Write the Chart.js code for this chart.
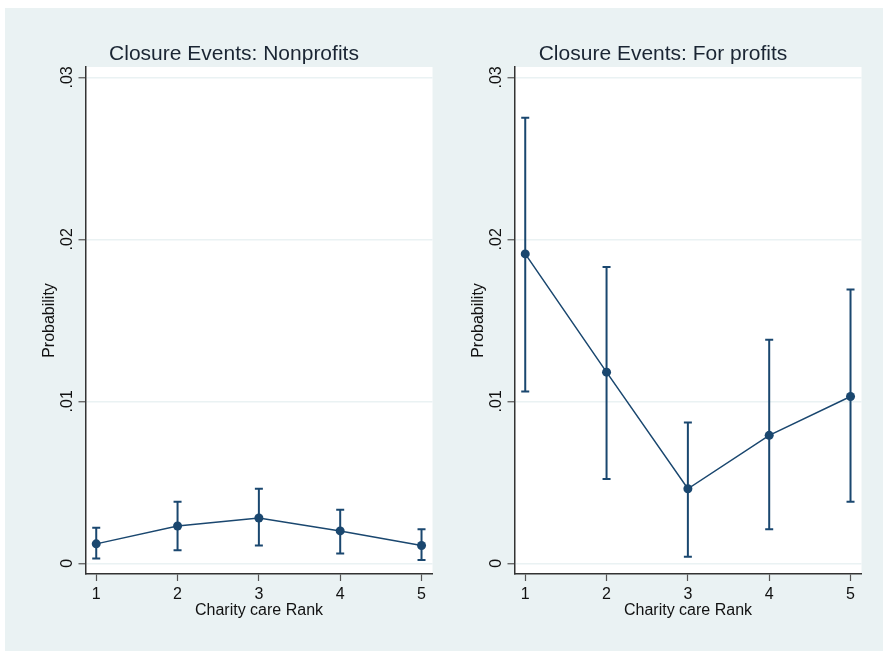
<!DOCTYPE html>
<html>
<head>
<meta charset="utf-8">
<script src="https://cdn.jsdelivr.net/npm/chart.js@4.4.1/dist/chart.umd.min.js"></script>
<style>
  html, body { margin: 0; padding: 0; background: #fff; overflow: hidden; }
  #bg { position: absolute; left: 5px; top: 8px; width: 878px; height: 643px; background: #eaf2f3; }
  .panel { position: absolute; top: 8px; width: 430px; height: 643px; }
</style>
</head>
<body>
<div id="bg"></div>
<div class="panel" style="left:18.5px"><canvas id="np"></canvas></div>
<div class="panel" style="left:448px"><canvas id="fp"></canvas></div>
<script>
// charity care rank categories
const ranks = [1, 2, 3, 4, 5]

// nonprofits: predicted probability and 95% CI
const npMean = [0.0012, 0.0023, 0.0028, 0.0020, 0.0011]
const npLo   = [0.0003, 0.0008, 0.0011, 0.0006, 0.0002]
const npHi   = [0.0022, 0.0038, 0.0046, 0.0033, 0.0021]

// for profits
const fpMean = [0.0191, 0.0118, 0.0046, 0.0079, 0.0103]
const fpLo   = [0.0106, 0.0052, 0.0004, 0.0021, 0.0038]
const fpHi   = [0.0275, 0.0183, 0.0087, 0.0138, 0.0169]

const yTicks = [0, 0.01, 0.02, 0.03]
const yTickLabels = ['0', '.01', '.02', '.03']

const navy = '#1a476f'
const font = '"Liberation Sans", Arial, sans-serif'

const plotBg = {
    id: 'plotBg',
    beforeDraw(chart) {
        let a = chart.chartArea, ctx = chart.ctx
        ctx.save()
        ctx.fillStyle = '#fff'
        ctx.fillRect(a.left, a.top, a.right - a.left, a.bottom - a.top)
        ctx.restore()
    }
}

// stata style y labels, turned on their side
const sideTicks = {
    id: 'sideTicks',
    afterDraw(chart) {
        let s = chart.scales.y, ctx = chart.ctx
        ctx.save()
        ctx.font = '16px ' + font
        ctx.fillStyle = '#111'
        ctx.textAlign = 'center'
        ctx.textBaseline = 'middle'
        s.ticks.forEach((t, i) => {
            ctx.save()
            ctx.translate(s.right - 18, s.getPixelForValue(t.value))
            ctx.rotate(-Math.PI / 2)
            ctx.fillText(yTickLabels[i], 0, 0)
            ctx.restore()
        })
        ctx.restore()
    }
}

function makeChart(id, title, mean, lo, hi){
    let datasets = [{
        data: ranks.map((r, i) => ({x: r, y: mean[i]})),
        showLine: true,
        borderColor: navy,
        borderWidth: 1.5,
        backgroundColor: navy,
        pointRadius: 4.5,
        pointBorderWidth: 0
    }]
    ranks.forEach((r, i) => {
        datasets.push({
            data: [{x: r, y: lo[i]}, {x: r, y: hi[i]}],
            showLine: true,
            borderColor: navy,
            borderWidth: 2,
            pointStyle: 'line',
            pointRadius: 4,
            pointBorderWidth: 2,
            pointBorderColor: navy
        })
    })

    return new Chart(document.getElementById(id), {
        type: 'scatter',
        data: { datasets: datasets },
        plugins: [plotBg, sideTicks],
        options: {
            responsive: true,
            maintainAspectRatio: false,
            animation: false,
            layout: { padding: 0 },
            plugins: {
                legend: { display: false },
                tooltip: { enabled: false },
                title: {
                    display: true,
                    text: title,
                    color: '#1a2533',
                    font: { family: font, size: 21, weight: 'normal' },
                    padding: { top: 33.4, bottom: 0.4 }
                }
            },
            scales: {
                x: {
                    type: 'linear',
                    min: 0.868,
                    max: 5.135,
                    afterBuildTicks: (s) => { s.ticks = ranks.map(v => ({value: v})) },
                    afterFit: (s) => { s.height = 77 },
                    grid: { drawOnChartArea: false, tickLength: 7, tickColor: '#555', tickWidth: 1.2 },
                    border: { color: '#333', width: 1.5 },
                    ticks: { color: '#111', font: { family: font, size: 16 }, padding: 3.5 },
                    title: {
                        display: true,
                        text: 'Charity care Rank',
                        color: '#111',
                        font: { family: font, size: 16 },
                        padding: { top: 0, bottom: 31 }
                    }
                },
                y: {
                    min: -0.00066,
                    max: 0.03064,
                    afterBuildTicks: (s) => { s.ticks = yTicks.map(v => ({value: v})) },
                    afterFit: (s) => { s.width = 66.5 },
                    grid: { color: '#eaf2f3', lineWidth: 1.5, tickLength: 7, tickColor: '#555', tickWidth: 1.2 },
                    border: { color: '#333', width: 1.5 },
                    ticks: { display: false },
                    title: {
                        display: true,
                        text: 'Probability',
                        color: '#111',
                        font: { family: font, size: 16 },
                        padding: { top: 20.5, bottom: 0 }
                    }
                },
                // empty right margin, keeps the title centred on the whole panel
                margin: {
                    type: 'linear',
                    position: 'right',
                    afterFit: (s) => { s.width = 16.5 },
                    grid: { display: false },
                    border: { display: false },
                    ticks: { display: false }
                }
            }
        }
    })
}

makeChart('np', 'Closure Events: Nonprofits', npMean, npLo, npHi)
makeChart('fp', 'Closure Events: For profits', fpMean, fpLo, fpHi)
</script>
</body>
</html>
